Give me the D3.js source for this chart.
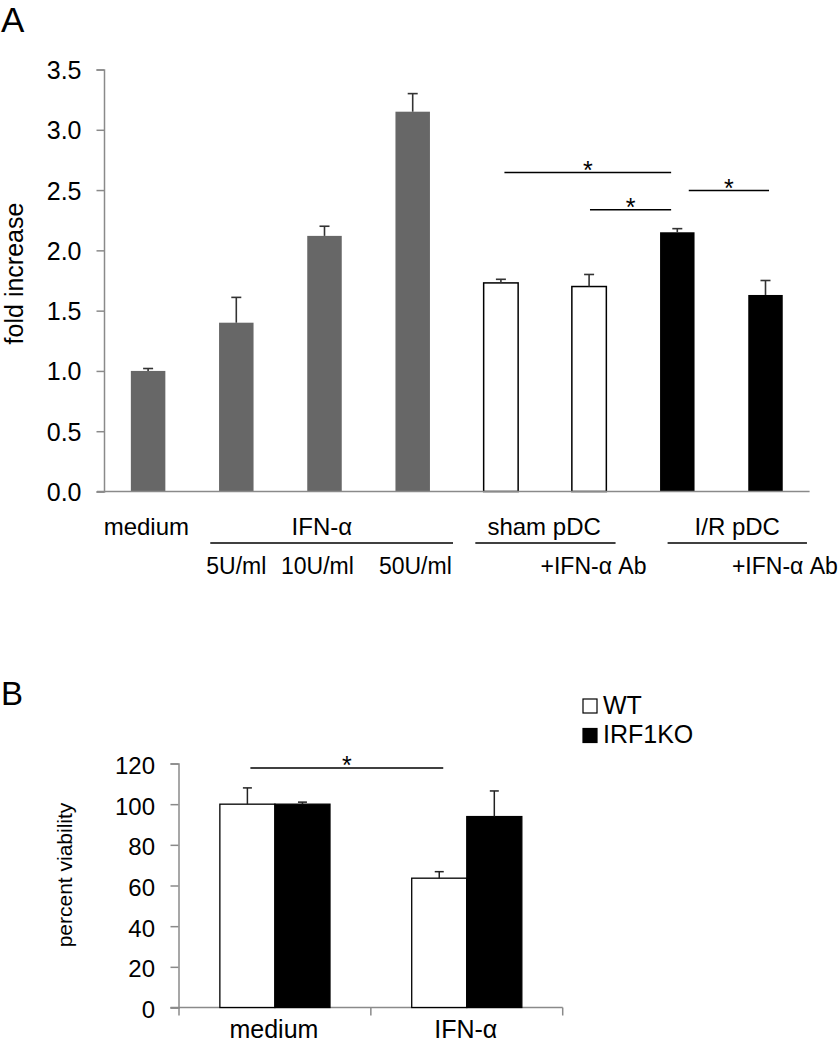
<!DOCTYPE html>
<html><head><meta charset="utf-8">
<script src="https://cdn.jsdelivr.net/npm/d3@7"></script>
<style>body{margin:0;background:#fff}svg{display:block;font-family:"Liberation Sans",Arial,Helvetica,sans-serif}</style>
</head><body><svg id="c" width="838" height="1050"></svg>
<script>
// ---------- Panel A data ----------
const aCategories = ["medium","IFN 5U/ml","IFN 10U/ml","IFN 50U/ml","sham pDC","sham pDC +IFN-α Ab","I/R pDC","I/R pDC +IFN-α Ab"];
const aGroups = ["medium","IFN","IFN","IFN","sham","sham","IR","IR"];
const aValues = [1.00, 1.40, 2.12, 3.15, 1.73, 1.70, 2.15, 1.63];
const aErrors = [0.02, 0.21, 0.08, 0.15, 0.03, 0.10, 0.03, 0.12];
const aYTicks = [0.0, 0.5, 1.0, 1.5, 2.0, 2.5, 3.0, 3.5];
const aTopLabels = [{text:"medium", at:-0.02},{text:"IFN-α", at:1.97},{text:"sham pDC", at:4.49},{text:"I/R pDC", at:6.68}];
const aUnderlines = [{from:0.705,to:3.457},{from:3.71,to:5.30},{from:5.89,to:7.47}];
const aBottomLabels = [{text:"5U/ml", at:1.0},{text:"10U/ml", at:1.92},{text:"50U/ml", at:3.03},{text:"+IFN-α Ab", at:5.05},{text:"+IFN-α Ab", at:7.22}];
const aSignif = [{from:4.04,to:5.93,y:2.645},{from:5.01,to:5.93,y:2.336},{from:6.13,to:7.04,y:2.496}];

// ---------- Panel B data ----------
const bCategories = ["medium","IFN-α"];
const bSeries = ["WT","IRF1KO"];
const bWT = [100, 63.6];
const bWTErr = [8, 3.2];
const bKO = [100, 93.9];
const bKOErr = [1, 12.6];
const bYTicks = [0,20,40,60,80,100,120];
const bSignif = [{from:"medium",to:"IFN-α",series:"WT",y:117.8}];

// ---------- styles ----------
const groupFill = {medium:"#676767", IFN:"#676767", sham:"#ffffff", IR:"#000000"};
const groupStroke = {medium:"none", IFN:"none", sham:"#000", IR:"none"};
const seriesFill = {WT:"#ffffff", IRF1KO:"#000000"};
const axisColor = "#8a8a8a";

const svg = d3.select("#c");

// ================= Panel A =================
svg.append("text").attr("x",1).attr("y",31.5).attr("font-size",35).text("A");

const aX = d3.scaleBand().domain(aCategories).range([104, 809.6]).paddingInner(0.609).paddingOuter(0.3045);
const aPos = d3.scaleLinear().domain([-0.5, 7.5]).range([104, 809.6]);
const aY = d3.scaleLinear().domain([0, 3.5]).range([491.5, 69.5]);

const gA = svg.append("g");
// y axis
const aYAxis = gA.append("g").attr("transform","translate(104,0)")
  .call(d3.axisLeft(aY).tickValues(aYTicks).tickFormat(d3.format(".1f")).tickSize(7.5).tickPadding(15));
aYAxis.select(".domain").attr("stroke",axisColor).attr("stroke-width",1.5);
aYAxis.selectAll(".tick line").attr("stroke",axisColor).attr("stroke-width",1.5);
aYAxis.selectAll(".tick text").attr("font-size",25).attr("fill","#000").attr("font-family",'"Liberation Sans",Arial,sans-serif').attr("dy","0.36em");

// bars
const aData = aCategories.map((c,i)=>({c, g:aGroups[i], v:aValues[i], e:aErrors[i]}));
gA.selectAll("rect.bar").data(aData).join("rect")
  .attr("x",d=>aX(d.c)).attr("width",aX.bandwidth())
  .attr("y",d=>aY(d.v)).attr("height",d=>aY(0)-aY(d.v))
  .attr("fill",d=>groupFill[d.g]).attr("stroke",d=>groupStroke[d.g]).attr("stroke-width",1.5);
// error bars
const aErr = gA.selectAll("g.err").data(aData).join("g").attr("stroke","#333").attr("stroke-width",1.6);
aErr.append("line").attr("x1",d=>aX(d.c)+aX.bandwidth()/2).attr("x2",d=>aX(d.c)+aX.bandwidth()/2)
  .attr("y1",d=>aY(d.v)).attr("y2",d=>aY(d.v+d.e));
aErr.append("line").attr("x1",d=>aX(d.c)+aX.bandwidth()/2-5).attr("x2",d=>aX(d.c)+aX.bandwidth()/2+5)
  .attr("y1",d=>aY(d.v+d.e)).attr("y2",d=>aY(d.v+d.e));

// x axis line
gA.append("line").attr("x1",97).attr("x2",aPos.range()[1]).attr("y1",aY(0)).attr("y2",aY(0))
  .attr("stroke",axisColor).attr("stroke-width",1.5);

// significance
aSignif.forEach(s=>{
  gA.append("line").attr("x1",aPos(s.from)).attr("x2",aPos(s.to)).attr("y1",aY(s.y)).attr("y2",aY(s.y))
    .attr("stroke","#000").attr("stroke-width",1.5);
  gA.append("text").attr("x",(aPos(s.from)+aPos(s.to))/2).attr("y",aY(s.y)+6)
    .attr("text-anchor","middle").attr("font-size",25).text("*");
});

// category labels
gA.selectAll("text.top").data(aTopLabels).join("text").attr("class","top")
  .attr("x",d=>aPos(d.at)).attr("y",535).attr("text-anchor","middle").attr("font-size",24).text(d=>d.text);
gA.selectAll("line.ul").data(aUnderlines).join("line").attr("class","ul")
  .attr("x1",d=>aPos(d.from)).attr("x2",d=>aPos(d.to)).attr("y1",543).attr("y2",543)
  .attr("stroke","#000").attr("stroke-width",1.5);
gA.selectAll("text.bot").data(aBottomLabels).join("text").attr("class","bot")
  .attr("x",d=>aPos(d.at)).attr("y",574).attr("text-anchor","middle").attr("font-size",23).text(d=>d.text);

// y label
gA.append("text").attr("transform","translate(23,273.5) rotate(-90)").attr("text-anchor","middle")
  .attr("font-size",25).text("fold increase");

// ================= Panel B =================
svg.append("text").attr("x",1).attr("y",705).attr("font-size",33).text("B");

const bX0 = d3.scaleBand().domain(bCategories).range([179, 562.7]).paddingInner(0.426).paddingOuter(0.213);
const bX1 = d3.scaleBand().domain(bSeries).range([0, bX0.bandwidth()]);
const bY = d3.scaleLinear().domain([0,120]).range([1007.5, 763.5]);
const gB = svg.append("g");

const bYAxis = gB.append("g").attr("transform","translate(178.5,0)")
  .call(d3.axisLeft(bY).tickValues(bYTicks).tickFormat(d3.format("d")).tickSize(8).tickPadding(15.5));
bYAxis.select(".domain").attr("stroke",axisColor).attr("stroke-width",1.5);
bYAxis.selectAll(".tick line").attr("stroke",axisColor).attr("stroke-width",1.5);
bYAxis.selectAll(".tick text").attr("font-size",24).attr("fill","#000").attr("font-family",'"Liberation Sans",Arial,sans-serif').attr("dy","0.42em");

// x axis with boundary ticks
const bStep = bX0.step();
const bBounds = [0,1,2].map(i=>bX0.range()[0] + i*bStep);
gB.append("line").attr("x1",170.5).attr("x2",bBounds[2]).attr("y1",bY(0)).attr("y2",bY(0))
  .attr("stroke",axisColor).attr("stroke-width",1.5);
gB.selectAll("line.bt").data(bBounds).join("line").attr("class","bt")
  .attr("x1",d=>d).attr("x2",d=>d).attr("y1",bY(0)).attr("y2",bY(0)+8)
  .attr("stroke",axisColor).attr("stroke-width",1.5);

const bData = [];
bCategories.forEach((c,i)=>{
  bData.push({c, s:"WT", v:bWT[i], e:bWTErr[i]});
  bData.push({c, s:"IRF1KO", v:bKO[i], e:bKOErr[i]});
});
gB.selectAll("rect.bar").data(bData).join("rect")
  .attr("x",d=>bX0(d.c)+bX1(d.s)).attr("width",bX1.bandwidth())
  .attr("y",d=>bY(d.v)).attr("height",d=>bY(0)-bY(d.v))
  .attr("fill",d=>seriesFill[d.s]).attr("stroke","#000").attr("stroke-width",1.3);
const bErr = gB.selectAll("g.err").data(bData).join("g").attr("stroke","#222").attr("stroke-width",1.5);
const bcx = d=>bX0(d.c)+bX1(d.s)+bX1.bandwidth()/2;
bErr.append("line").attr("x1",bcx).attr("x2",bcx).attr("y1",d=>bY(d.v)).attr("y2",d=>bY(d.v+d.e));
bErr.append("line").attr("x1",d=>bcx(d)-4.5).attr("x2",d=>bcx(d)+4.5).attr("y1",d=>bY(d.v+d.e)).attr("y2",d=>bY(d.v+d.e));

bSignif.forEach(s=>{
  const x1 = bX0(s.from)+bX1(s.series)+bX1.bandwidth()/2+3;
  const x2 = bX0(s.to)+bX1(s.series)+bX1.bandwidth()/2+4;
  gB.append("line").attr("x1",x1).attr("x2",x2).attr("y1",bY(s.y)).attr("y2",bY(s.y))
    .attr("stroke","#000").attr("stroke-width",1.5);
  gB.append("text").attr("x",(x1+x2)/2).attr("y",bY(s.y)+6).attr("text-anchor","middle").attr("font-size",25).text("*");
});

gB.selectAll("text.cat").data(bCategories).join("text").attr("class","cat")
  .attr("x",d=>bX0(d)+bX0.bandwidth()/2-1).attr("y",1038).attr("text-anchor","middle").attr("font-size",25).text(d=>d);

gB.append("text").attr("transform","translate(72,875) rotate(-90)").attr("text-anchor","middle")
  .attr("font-size",21).text("percent viability");

// legend
const leg = gB.selectAll("g.leg").data(bSeries).join("g").attr("class","leg")
  .attr("transform",(d,i)=>`translate(583,${699 + i*29.5})`);
leg.append("rect").attr("width",14).attr("height",14).attr("fill",d=>seriesFill[d]).attr("stroke","#000").attr("stroke-width",1.2);
leg.append("text").attr("x",20).attr("y",14.5).attr("font-size",25).text(d=>d);
</script></body></html>
